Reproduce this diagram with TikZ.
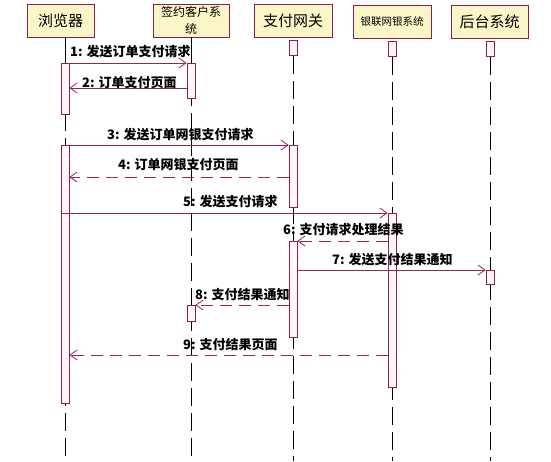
\documentclass[tikz,border=0pt]{standalone}
\usepackage{fontspec}
\newfontfamily\cjk{Noto Sans CJK SC}
\usetikzlibrary{arrows.meta}
\definecolor{maroon}{RGB}{140,30,80}
\definecolor{msgcol}{RGB}{150,35,95}
\definecolor{headfill}{RGB}{250,246,200}
\definecolor{barfill}{RGB}{255,246,250}
\begin{document}
\begin{tikzpicture}[x=1pt,y=-1pt,
  head/.style={draw=maroon, fill=headfill, line width=0.8pt, inner sep=0pt, align=center, font=\cjk\fontsize{15}{15}\selectfont},
  bar/.style={draw=maroon, fill=barfill, line width=0.8pt, minimum width=8pt, inner sep=0pt, anchor=north},
  life/.style={black, line width=0.7pt, dash pattern=on 18pt off 7pt},
  lifesolid/.style={black, line width=0.7pt},
  msg/.style={draw=msgcol, line width=0.8pt, -{Straight Barb[length=7pt,width=10pt]}},
  ret/.style={msg, dash pattern=on 12pt off 7pt},
  lbl/.style={font=\cjk\bfseries\fontsize{13}{13}\selectfont, anchor=west, inner sep=0pt}]
\useasboundingbox (0,0) rectangle (551,461);
\fill[white] (0,0) rectangle (551,461);

% header boxes
\node[head, minimum width=67pt, minimum height=33pt] (hB) at (60.5,20.5) {浏览器};
\node[head, minimum width=76pt, minimum height=33pt, font=\cjk\fontsize{12}{17}\selectfont] (hS) at (191,20.5) {签约客户系\\统};
\node[head, minimum width=78pt, minimum height=33pt] (hG) at (293,20.5) {支付网关};
\node[head, minimum width=78pt, minimum height=33pt, font=\cjk\fontsize{10.5}{11}\selectfont] (hU) at (392,21.5) {银联网银系统};
\node[head, minimum width=77pt, minimum height=33pt] (hH) at (489.5,21.5) {后台系统};

% small top activations
\node[bar, minimum height=15pt] (tG) at (293,40) {};
\node[bar, minimum height=15pt] (tU) at (392,41) {};
\node[bar, minimum height=15pt] (tH) at (490,41) {};

% lifelines
\coordinate (eB) at (65,461);
\coordinate (eS) at (191,461);
\coordinate (eG) at (293,461);
\coordinate (eU) at (392,461);
\coordinate (eH) at (490,461);
\draw[lifesolid] (65,37) -- (65,63);
\draw[lifesolid] (hS.south) -- (191,63);
\draw[life] (65,63) -- (eB);
\draw[life] (191,63) -- (eS);
\draw[life] (tG.south) -- (eG);
\draw[life] (tU.south) -- (eU);
\draw[life] (tH.south) -- (eH);

% activation bars
\node[bar, minimum height=51pt] (b1) at (65,63) {};
\node[bar, minimum height=35pt] (s1) at (191,63) {};
\node[bar, minimum height=258pt] (b2) at (65,145) {};
\node[bar, minimum height=62pt] (g1) at (293,145) {};
\node[bar, minimum height=174pt] (u1) at (392,213) {};
\node[bar, minimum height=96pt] (g2) at (293,241) {};
\node[bar, minimum height=14pt] (h1) at (490,270) {};
\node[bar, minimum height=16pt] (s2) at (191,305) {};

% messages
\draw[msg] (b1.north east) -- (s1.north west);
\draw[msg] (s1.west |- 0,88) -- (b1.east |- 0,88);
\draw[msg] (b2.north east) -- (g1.north west);
\draw[ret] (g1.west |- 0,177) -- (b2.east |- 0,177);
\draw[msg] (b2.west |- u1.north) -- (u1.north west);
\draw[ret] (u1.west |- g2.north) -- (g2.north east);
\draw[msg] (g2.east |- h1.north) -- (h1.north west);
\draw[ret] (g2.west |- s2.north) -- (s2.north east);
\draw[ret] (u1.west |- 0,355) -- (b2.east |- 0,355);

% labels
\node[lbl] (l1) at (70,52) {1: 发送订单支付请求};
\node[lbl] (l2) at (82,83) {2: 订单支付页面};
\node[lbl] (l3) at (107,135) {3: 发送订单网银支付请求};
\node[lbl] (l4) at (118,165) {4: 订单网银支付页面};
\node[lbl] (l5) at (183,202) {5: 发送支付请求};
\node[lbl] (l6) at (283,230) {6: 支付请求处理结果};
\node[lbl] (l7) at (332,260) {7: 发送支付结果通知};
\node[lbl] (l8) at (195,295) {8: 支付结果通知};
\node[lbl] (l9) at (183,345) {9: 支付结果页面};
\end{tikzpicture}
\end{document}
